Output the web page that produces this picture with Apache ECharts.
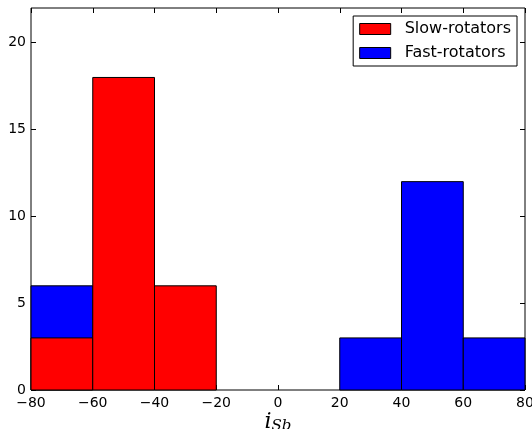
<!DOCTYPE html>
<html>
<head>
<meta charset="utf-8">
<script src="https://cdn.jsdelivr.net/npm/echarts@6/dist/echarts.min.js"></script>
<style>
  html, body { margin: 0; padding: 0; background: #fff; }
  #chart { width: 532px; height: 429px; }
</style>
</head>
<body>
<div id="chart"></div>
<script>
// histogram bins of i_Sb and counts per bin
const binEdges = [-80, -60, -40, -20, 0, 20, 40, 60, 80];
const slowCounts = [3, 18, 6, 0, 0, 0, 0, 0];
const fastCounts = [6, 0, 0, 0, 0, 3, 12, 3];
const xTicks = [-80, -60, -40, -20, 0, 20, 40, 60, 80];
const yTicks = [0, 5, 10, 15, 20];

function toBars(counts) {
    const out = [];
    for (let i = 0; i < counts.length; i++) {
        if (counts[i] > 0) out.push([binEdges[i], binEdges[i + 1], counts[i]]);
    }
    return out;
}

function barRenderer(color) {
    return function (params, api) {
        const p0 = api.coord([api.value(0), api.value(2)]);
        const p1 = api.coord([api.value(1), 0]);
        return {
            type: 'rect',
            shape: { x: p0[0], y: p0[1], width: p1[0] - p0[0], height: p1[1] - p0[1] },
            style: { fill: color, stroke: '#000', lineWidth: 1 }
        };
    };
}

const fmtMinus = function (v) { return v < 0 ? '\u2212' + (-v) : String(v); };
const font = 'DejaVu Sans';
const tick = { inside: true, length: 5, lineStyle: { color: '#000' } };

const chart = echarts.init(document.getElementById('chart'));
const option = {
    animation: false,
    backgroundColor: '#fff',
    grid: {
        left: 31, right: 7, top: 8, bottom: 39,
        containLabel: false, outerBoundsMode: 'none',
        show: true, borderColor: '#000', borderWidth: 1, backgroundColor: 'transparent'
    },
    legend: {
        orient: 'vertical',
        right: 15, top: 16,
        data: ['Slow-rotators', 'Fast-rotators'],
        icon: 'rect',
        itemWidth: 31, itemHeight: 11, itemGap: 8,
        padding: [5, 6, 5, 6],
        borderColor: '#000', borderWidth: 1, borderRadius: 0,
        backgroundColor: '#fff',
        itemStyle: { borderColor: '#000', borderWidth: 1 },
        textStyle: { fontFamily: font, fontSize: 16, lineHeight: 15, color: '#000', padding: [0, 0, 0, 9] }
    },
    xAxis: [{
        type: 'value', min: -80, max: 80, interval: 20,
        position: 'bottom',
        axisLine: { show: false, onZero: false },
        splitLine: { show: false },
        axisTick: Object.assign({ customValues: xTicks }, tick),
        axisLabel: { fontFamily: font, fontSize: 14, color: '#000', margin: 6, formatter: fmtMinus, customValues: xTicks },
        name: '{i|i}{s|Sb}',
        nameLocation: 'middle',
        nameMoveOverlap: false,
        nameGap: 20,
        nameTextStyle: {
            rich: {
                i: { fontFamily: 'DejaVu Serif', fontStyle: 'italic', fontSize: 22, color: '#000' },
                s: { fontFamily: 'DejaVu Serif', fontStyle: 'italic', fontSize: 15, color: '#000', padding: [9, 0, 0, 0] }
            }
        }
    }, {
        type: 'value', min: -80, max: 80, interval: 20,
        position: 'top',
        axisLine: { show: false, onZero: false },
        splitLine: { show: false },
        axisTick: Object.assign({ customValues: xTicks }, tick),
        axisLabel: { show: false }
    }],
    yAxis: [{
        type: 'value', min: 0, max: 22,
        position: 'left',
        axisLine: { show: false, onZero: false },
        splitLine: { show: false },
        axisTick: Object.assign({ customValues: yTicks }, tick),
        axisLabel: { fontFamily: font, fontSize: 14, color: '#000', margin: 5, customValues: yTicks }
    }, {
        type: 'value', min: 0, max: 22,
        position: 'right',
        axisLine: { show: false, onZero: false },
        splitLine: { show: false },
        axisTick: Object.assign({ customValues: yTicks }, tick),
        axisLabel: { show: false }
    }],
    series: [{
        name: 'Fast-rotators',
        type: 'custom',
        z: 2,
        itemStyle: { color: '#0000ff' },
        renderItem: barRenderer('#0000ff'),
        encode: { x: [0, 1], y: 2 },
        data: toBars(fastCounts)
    }, {
        name: 'Slow-rotators',
        type: 'custom',
        z: 3,
        itemStyle: { color: '#ff0000' },
        renderItem: barRenderer('#ff0000'),
        encode: { x: [0, 1], y: 2 },
        data: toBars(slowCounts)
    }]
};
chart.setOption(option);
</script>
</body>
</html>
